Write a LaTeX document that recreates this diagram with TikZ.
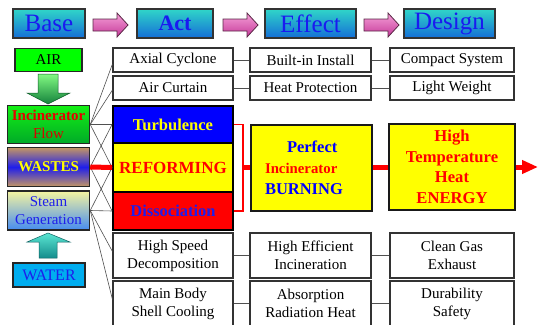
\documentclass[tikz,border=0pt]{standalone}
\usepackage{fontspec}
\setmainfont{Liberation Serif}
\usetikzlibrary{arrows.meta,calc}

\definecolor{headtop}{RGB}{48,214,200}
\definecolor{headbot}{RGB}{20,110,215}
\definecolor{headtext}{RGB}{26,26,240}
\definecolor{pinktop}{RGB}{246,160,216}
\definecolor{pinkbot}{RGB}{196,56,152}
\definecolor{pinkedge}{RGB}{90,40,70}
\definecolor{gbright}{RGB}{0,255,0}
\definecolor{gtop}{RGB}{20,240,20}
\definecolor{gbot}{RGB}{0,170,40}
\definecolor{wbrown}{RGB}{196,150,100}
\definecolor{wblue}{RGB}{30,30,235}
\definecolor{stop}{RGB}{244,244,160}
\definecolor{sbot}{RGB}{70,140,240}
\definecolor{arrgtop}{RGB}{130,250,130}
\definecolor{arrgbot}{RGB}{20,130,60}
\definecolor{arrttop}{RGB}{90,230,210}
\definecolor{arrtbot}{RGB}{20,140,140}
\definecolor{pureblue}{RGB}{0,0,255}
\definecolor{pureyellow}{RGB}{255,255,0}
\definecolor{purered}{RGB}{255,0,0}
\definecolor{linegray}{RGB}{80,80,80}

\begin{document}
\begin{tikzpicture}[x=1pt,y=-1pt,
  head/.style={draw=black!80, line width=1.2pt, top color=headtop, bottom color=headbot,
    text=headtext, inner sep=0pt, minimum height=29pt, font=\fontsize{25}{25}\selectfont},
  pinkarrow/.style={draw=pinkedge, line width=0.8pt, top color=pinktop, bottom color=pinkbot},
  lbox/.style={draw=black!85, line width=1.5pt, inner sep=0pt, minimum width=82pt, align=center,
    font=\fontsize{15}{18}\selectfont},
  wbox/.style={draw=black!80, line width=1.1pt, fill=white, inner sep=0pt, align=center,
    font=\fontsize{15}{18}\selectfont},
  cbox/.style={draw=black, line width=1.8pt, inner sep=0pt, minimum width=120pt, align=center,
    font=\bfseries\fontsize{16.5}{20}\selectfont},
  ybox/.style={draw=black!90, line width=1.6pt, fill=pureyellow, inner sep=0pt, minimum height=86pt},
  thinline/.style={draw=linegray, line width=0.6pt},
  redthick/.style={draw=purered, line width=5pt},
  redthin/.style={draw=purered, line width=1.6pt},
]
\useasboundingbox (0,0) rectangle (538,324);
\clip (0,0) rectangle (538,324);

% header row
\node[head, minimum width=72pt] (base) at (49,23.5) {Base};
\node[head, minimum width=76pt, font=\bfseries\fontsize{22}{22}\selectfont] (act) at (175,23.5) {Act};
\node[head, minimum width=91pt] (effect) at (310.5,23.5) {Effect};
\node[head, minimum width=91pt] (design) at (449.5,23.5) {Design};

% block arrows between the headings
\foreach \ax in {93,223,364}{
  \shadedraw[pinkarrow] (\ax,19) -- ++(24,0) -- ++(0,-6) -- ++(11,12) -- ++(-11,12)
    -- ++(0,-6) -- ++(-24,0) -- cycle;
}

% input column
\node[lbox, fill=gbright, minimum width=67pt, minimum height=23pt] (air) at (48.5,60) {AIR};
\shadedraw[draw=arrgbot!70!black, line width=0.5pt, top color=arrgtop, bottom color=arrgbot]
  (38,74) -- (58,74) -- (58,93) -- (70,93) -- (48,104) -- (27,93) -- (38,93) -- cycle;
\node[lbox, top color=gtop, bottom color=gbot, minimum height=38pt] (incin) at (48.5,124.5)
  {\textcolor{purered!90!black}{\bfseries Incinerator}\\\textcolor{purered!85!black}{Flow}};
\node[lbox, top color=wbrown, bottom color=wbrown, middle color=wblue, minimum height=39pt,
  text=pureyellow, font=\bfseries\fontsize{15}{18}\selectfont] (wastes) at (48.5,167) {WASTES};
\node[lbox, top color=stop, bottom color=sbot, minimum height=39pt, text=wblue] (steam)
  at (48.5,210.5) {Steam\\Generation};
\shadedraw[draw=arrtbot!70!black, line width=0.5pt, top color=arrttop, bottom color=arrtbot]
  (48,233) -- (70,242) -- (57,242) -- (57,258) -- (39,258) -- (39,242) -- (27,242) -- cycle;
\node[lbox, fill=cyan, minimum width=72pt, minimum height=24pt, text=wblue,
  font=\fontsize{16}{18}\selectfont] (water) at (49,275) {WATER};

% act column
\node[wbox, minimum width=120pt, minimum height=24pt] (axial) at (173,60) {Axial Cyclone};
\node[wbox, minimum width=120pt, minimum height=24pt] (curtain) at (173,88) {Air Curtain};
\node[cbox, fill=pureblue, text=pureyellow, minimum height=37pt] (turb) at (173,124.5) {Turbulence};
\node[cbox, fill=pureyellow, text=purered, minimum height=49pt,
  font=\bfseries\fontsize{17}{20}\selectfont] (reform) at (173,167.5) {REFORMING};
\node[cbox, fill=purered, text=wblue, minimum height=38pt] (diss) at (173,211) {Dissociation};
\node[wbox, minimum width=120pt, minimum height=45pt] (hspeed) at (173,255.5) {High Speed\\Decomposition};
\node[wbox, minimum width=120pt, minimum height=45pt] (mainbody) at (173,303.5) {Main Body\\Shell Cooling};

% effect column
\node[wbox, minimum width=121pt, minimum height=24pt] (builtin) at (310.5,60) {Built-in Install};
\node[wbox, minimum width=121pt, minimum height=24pt] (heatprot) at (310.5,88) {Heat Protection};
\node[ybox, minimum width=121pt, text width=93pt, align=left,
  font=\bfseries\fontsize{16.5}{21}\selectfont] (perfect) at (311.5,168)
  {\hspace*{22pt}\textcolor{pureblue}{Perfect}\\
   \textcolor{purered}{\fontsize{14.8}{21}\selectfont Incinerator}\\
   \textcolor{pureblue}{BURNING}};
\node[wbox, minimum width=121pt, minimum height=45pt] (higheff) at (310.5,255.5) {High Efficient\\Incineration};
\node[wbox, minimum width=121pt, minimum height=45pt] (absorb) at (310.5,303.5) {Absorption\\Radiation Heat};

% design column
\node[wbox, minimum width=124pt, minimum height=24pt] (compact) at (452,60) {Compact System};
\node[wbox, minimum width=124pt, minimum height=24pt] (light) at (452,88) {Light Weight};
\node[ybox, minimum width=126pt, align=center, text=purered,
  font=\bfseries\fontsize{16.6}{20.5}\selectfont] (energy) at (452,167)
  {High\\Temperature\\Heat\\ENERGY};
\node[wbox, minimum width=124pt, minimum height=45pt] (clean) at (452,255.5) {Clean Gas\\Exhaust};
\node[wbox, minimum width=124pt, minimum height=45pt] (durab) at (452,303.5) {Durability\\Safety};

% thin links between the rows
\draw[thinline] (axial) -- (builtin);
\draw[thinline] (builtin) -- (compact);
\draw[thinline] (curtain) -- (heatprot);
\draw[thinline] (heatprot) -- (light);
\draw[thinline] (hspeed) -- (higheff);
\draw[thinline] (higheff) -- (clean);
\draw[thinline] (mainbody) -- (absorb);
\draw[thinline] (absorb) -- (durab);

% links from the input column to the act column
\draw[thinline] (incin.east) -- ([yshift=-4pt]axial.west);
\draw[thinline] (incin.east) -- ([yshift=-2pt]curtain.west);
\draw[thinline] (incin.east) -- (turb.west);
\draw[thinline] (incin.east) -- (reform.west);
\draw[thinline] (wastes.east) -- (turb.west);
\draw[thinline] (wastes.east) -- (diss.west);
\draw[thinline] (steam.east) -- (reform.west);
\draw[thinline] (steam.east) -- (diss.west);
\draw[thinline] (steam.east) -- ([yshift=4pt]hspeed.west);
\draw[thinline] (steam.east) -- ([yshift=4pt]mainbody.west);
\draw[redthick] (wastes.east) -- (reform.west);

% bracket joining the act blocks and the main flow
\draw[redthin] (turb.east) -- ++(9,0) coordinate (brtop) |- (diss.east);
\draw[redthick] (reform.east -| brtop) -- (perfect.west |- reform.east);
\draw[redthick] (perfect.east |- energy.west) -- (energy.west);
\coordinate (out) at (538,167);
\draw[redthick, -{Triangle[length=16pt,width=13pt]}] (energy.east) -- (out);
\end{tikzpicture}
\end{document}
